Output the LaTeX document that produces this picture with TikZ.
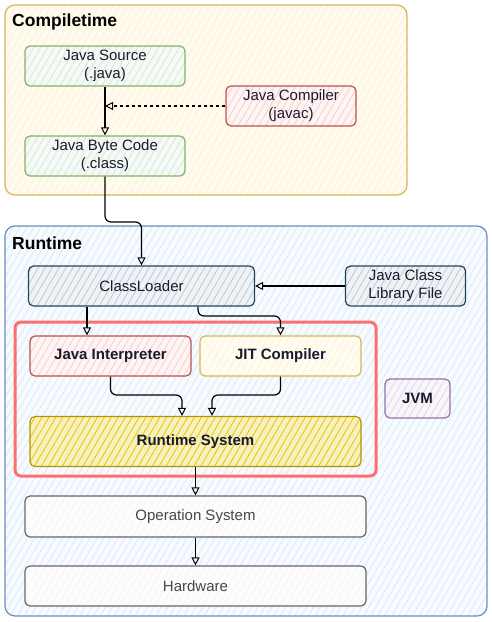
\documentclass[tikz,border=0pt]{standalone}
\usepackage{fontspec}
\setmainfont{Liberation Sans}
\usetikzlibrary{arrows.meta,patterns.meta,calc}
\definecolor{ylF}{HTML}{FFF2CC}\definecolor{ylS}{HTML}{D6B656}
\definecolor{grF}{HTML}{D5E8D4}\definecolor{grS}{HTML}{82B366}
\definecolor{rdF}{HTML}{F8CECC}\definecolor{rdS}{HTML}{B85450}
\definecolor{blF}{HTML}{DAE8FC}\definecolor{blS}{HTML}{6C8EBF}
\definecolor{slF}{HTML}{BAC8D3}\definecolor{slS}{HTML}{23445D}
\definecolor{puF}{HTML}{E1D5E7}\definecolor{puS}{HTML}{9673A6}
\definecolor{rsF}{HTML}{E3C800}\definecolor{rsS}{HTML}{B09500}
\definecolor{gyF}{HTML}{F5F5F5}\definecolor{gyS}{HTML}{666666}
\definecolor{jvmR}{HTML}{FF6F6F}
\definecolor{txt}{HTML}{1A1A2E}
\tikzset{
  hatch/.style n args={4}{draw=#2, line width=1.2pt, rounded corners=#3,
    preaction={fill=#1!#4!white},
    pattern={Lines[angle=60,distance=6pt,line width=0.8pt]}, pattern color=#1},
  box/.style={hatch={#1F}{#1S}{5pt}{22}, align=center, inner sep=0pt,
    font=\fontsize{15}{18}\selectfont, text=txt},
  bbox/.style={box=#1, font=\fontsize{15}{18}\selectfont\bfseries},
  arr/.style={draw=black, line width=1.2pt, rounded corners=6pt,
    -{Triangle[open,length=8pt,width=8pt,line width=1pt]}},
  ttl/.style={anchor=west, font=\fontsize{17.5}{20}\selectfont\bfseries, inner sep=0pt}
}
\begin{document}
\begin{tikzpicture}[x=1pt,y=-1pt]
\useasboundingbox (0,0) rectangle (492,622);
% containers
\node[hatch={ylF}{ylS}{10pt}{30}, minimum width=402pt, minimum height=190pt] (ct) at (206,100) {};
\node[ttl] (ctt) at (12,22) {Compiletime};
\node[hatch={blF}{blS}{10pt}{18}, minimum width=482pt, minimum height=390pt] (rt) at (246,421) {};
\node[ttl] (rtt) at (12,243) {Runtime};
% compile time nodes
\node[box=gr, minimum width=160pt, minimum height=40pt] (src) at (105,66) {Java Source\\(.java)};
\node[box=gr, minimum width=160pt, minimum height=40pt] (bc) at (105,156) {Java Byte Code\\(.class)};
\node[box=rd, minimum width=130pt, minimum height=40pt] (jc) at (291,106) {Java Compiler\\(javac)};
\coordinate (m1) at (105,106);
% runtime nodes
\node[box=sl, minimum width=226pt, minimum height=40pt] (cl) at (141.5,286) {ClassLoader};
\node[box=sl, minimum width=120pt, minimum height=40pt] (lib) at (405.5,286) {Java Class\\Library File};
\node[draw=jvmR, line width=3pt, rounded corners=6pt, minimum width=361pt, minimum height=154pt] (jvmf) at (195.5,399) {};
\node[bbox=rd, minimum width=161pt, minimum height=40pt] (ji) at (110.5,356) {Java Interpreter};
\node[bbox=yl, minimum width=161pt, minimum height=40pt] (jit) at (280.5,356) {JIT Compiler};
\node[bbox=rs, hatch={rsF}{rsS}{5pt}{25}, minimum width=331pt, minimum height=50pt] (rs) at (195.5,441.5) {Runtime System};
\node[bbox=pu, minimum width=65pt, minimum height=39pt] (jvm) at (417.5,398.5) {JVM};
\node[box=gy, text=gyS!70!black, minimum width=341pt, minimum height=41pt] (os) at (195.5,516.5) {Operation System};
\node[box=gy, text=gyS!70!black, minimum width=341pt, minimum height=40pt] (hw) at (195.5,586) {Hardware};
% helper coordinates
\coordinate (k1) at (105,222);
\coordinate (xa) at (87,0);
\coordinate (k2) at (198,316);
\coordinate (k3) at (110.5,395);
\coordinate (k4) at (280.5,395);
\coordinate (xc) at (182,0);
\coordinate (xd) at (212,0);
% connectors
\draw[arr] (src) -- (bc);
\draw[arr, dashed] (jc) -- (m1);
\draw[arr] (bc.south) -- (k1) -| (cl.north);
\draw[arr] (lib) -- (cl);
\draw[arr] (cl.south -| xa) -- (ji.north -| xa);
\draw[arr] (cl.south -| k2) -- (k2) -| (jit.north);
\draw[arr] (ji.south) -- (k3) -| (rs.north -| xc);
\draw[arr] (jit.south) -- (k4) -| (rs.north -| xd);
\draw[arr] (rs) -- (os);
\draw[arr] (os) -- (hw);
\end{tikzpicture}
\end{document}
